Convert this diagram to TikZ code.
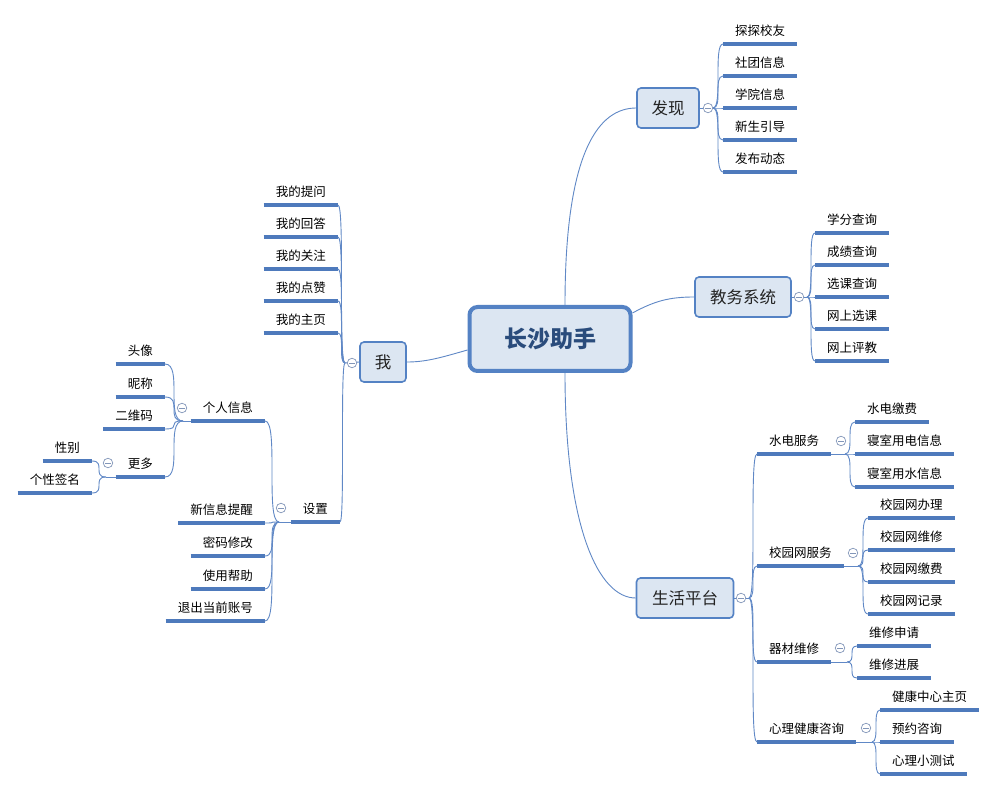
\documentclass[tikz,border=0pt]{standalone}
\usepackage{fontspec}
\setmainfont{Noto Sans CJK SC}
\usetikzlibrary{calc}
\definecolor{linec}{RGB}{96,136,198}
\definecolor{ulc}{RGB}{78,122,188}
\definecolor{boxfill}{RGB}{220,230,242}
\definecolor{boxdraw}{RGB}{84,130,196}
\definecolor{ctext}{RGB}{42,76,124}
\definecolor{ttext}{RGB}{35,35,35}
\definecolor{collc}{RGB}{130,150,185}
\newcommand\mmconn[2]{\draw[conn] (#1) .. controls (#2 |- #1) and (#1 |- #2) .. (#2);}
\begin{document}
\begin{tikzpicture}[x=1pt,y=-1pt,
 conn/.style={draw=linec, line width=0.9pt},
 uline/.style={draw=ulc, line width=3.2pt},
 leaf/.style={inner xsep=12pt, inner ysep=0pt, minimum height=23pt, text height=9.5pt, text depth=2.5pt,
   font=\fontsize{12.5}{14}\selectfont, text=black,
   append after command={(\tikzlastnode.south west) edge[uline] (\tikzlastnode.south east)}},
 leafR/.style={leaf, anchor=south west},
 leafL/.style={leaf, anchor=south east},
 topic/.style={draw=boxdraw, line width=1.6pt, fill=boxfill, rounded corners=4pt,
   font=\fontsize{16.5}{18}\selectfont, text=ttext, minimum height=40pt, inner sep=0pt},
 coll/.style={circle, draw=collc, line width=0.7pt, fill=white, minimum size=9.5pt, inner sep=0pt,
   path picture={\draw[collc, line width=0.7pt] ([xshift=-2.6pt]path picture bounding box.center) -- ([xshift=2.6pt]path picture bounding box.center);}},
]
\fill[white] (0,0) rectangle (1001,791);
\useasboundingbox (0,0) rectangle (1001,791);

% central
\node[draw=boxdraw, line width=4pt, fill=boxfill, rounded corners=8pt, minimum width=161pt, minimum height=64pt,
  font=\fontsize{23}{26}\selectfont\bfseries, text=ctext] (c) at (550,339) {长沙助手};

% topics
\node[topic, minimum width=62pt] (fx) at (668,108) {发现};
\node[topic, minimum width=96pt] (jw) at (743,297) {教务系统};
\node[topic, minimum width=46pt] (wo) at (383,362) {我};
\node[topic, minimum width=97pt] (sh) at (685,598) {生活平台};

% 发现 leaves
\node[leafR] (f1) at (723,44) {探探校友};
\node[leafR] (f2) at (723,76) {社团信息};
\node[leafR] (f3) at (723,108) {学院信息};
\node[leafR] (f4) at (723,140) {新生引导};
\node[leafR] (f5) at (723,172) {发布动态};

% 教务系统 leaves
\node[leafR] (j1) at (815,233) {学分查询};
\node[leafR] (j2) at (815,265) {成绩查询};
\node[leafR] (j3) at (815,297) {选课查询};
\node[leafR] (j4) at (815,329) {网上选课};
\node[leafR] (j5) at (815,361) {网上评教};

% 我 leaves
\node[leafL] (w1) at (338,205) {我的提问};
\node[leafL] (w2) at (338,237) {我的回答};
\node[leafL] (w3) at (338,269) {我的关注};
\node[leafL] (w4) at (338,301) {我的点赞};
\node[leafL] (w5) at (338,333) {我的主页};
\node[leafL] (sz) at (340,522) {设置};

% 设置 children
\node[leafL] (p) at (265,421) {个人信息};
\node[leafL] (s2) at (265,523) {新信息提醒};
\node[leafL] (s3) at (265,556) {密码修改};
\node[leafL] (s4) at (265,589) {使用帮助};
\node[leafL] (s5) at (265,621) {退出当前账号};

% 个人信息 children
\node[leafL] (p1) at (165,364) {头像};
\node[leafL] (p2) at (165,397) {昵称};
\node[leafL] (p3) at (165,429) {二维码};
\node[leafL] (p4) at (165,477) {更多};

% 更多 children
\node[leafL] (m1) at (92,461) {性别};
\node[leafL] (m2) at (92,493) {个性签名};

% 生活平台 children
\node[leafR] (l1) at (757,454) {水电服务};
\node[leafR] (l2) at (757,566) {校园网服务};
\node[leafR] (l3) at (757,662) {器材维修};
\node[leafR] (l4) at (757,742) {心理健康咨询};

\node[leafR] (a1) at (855,422) {水电缴费};
\node[leafR] (a2) at (855,454) {寝室用电信息};
\node[leafR] (a3) at (855,487) {寝室用水信息};

\node[leafR] (b1) at (868,518) {校园网办理};
\node[leafR] (b2) at (868,550) {校园网维修};
\node[leafR] (b3) at (868,582) {校园网缴费};
\node[leafR] (b4) at (868,614) {校园网记录};

\node[leafR] (q1) at (857,646) {维修申请};
\node[leafR] (q2) at (857,678) {维修进展};

\node[leafR] (h1) at (880,710) {健康中心主页};
\node[leafR] (h2) at (880,742) {预约咨询};
\node[leafR] (h3) at (880,774) {心理小测试};

% junctions
\coordinate (jF) at (713,108);
\coordinate (jJ) at (807,297);
\coordinate (jW) at (345,363);
\coordinate (jS) at (279,522);
\coordinate (jP) at (183,421);
\coordinate (jM) at (106,477);
\coordinate (jL) at (749,598);
\coordinate (jA) at (845,454);
\coordinate (jB) at (858,566);
\coordinate (jQ) at (847,662);
\coordinate (jH) at (872,742);

% central connectors
\draw[conn] ([xshift=15pt]c.north) .. controls ++(0,-155) and ++(-37,0) .. (fx.west);
\draw[conn] ([xshift=15pt]c.south) .. controls ++(0,155) and ++(-37,0) .. (sh.west);
\draw[conn] ([yshift=26pt]c.east) .. controls ++(22,-12) and ++(-25,0) .. (jw.west);
\draw[conn] ([yshift=-11pt]c.west) .. controls ++(-28,8) and ++(19,0) .. (wo.east);

% topic to junction
\draw[conn] (fx.east) -- (jF);
\draw[conn] (jw.east) -- (jJ);
\draw[conn] (wo.west) -- (jW);
\draw[conn] (sh.east) -- (jL);
\draw[conn] (sz.south west) -- (jS);
\draw[conn] (p.south west) -- (jP);
\draw[conn] (p4.south west) -- (jM);
\draw[conn] (l1.south east) -- (jA);
\draw[conn] (l2.south east) -- (jB);
\draw[conn] (l3.south east) -- (jQ);
\draw[conn] (l4.south east) -- (jH);

% branch curves
\mmconn{jF}{f1.south west}\mmconn{jF}{f2.south west}\mmconn{jF}{f3.south west}\mmconn{jF}{f4.south west}\mmconn{jF}{f5.south west}
\mmconn{jJ}{j1.south west}\mmconn{jJ}{j2.south west}\mmconn{jJ}{j3.south west}\mmconn{jJ}{j4.south west}\mmconn{jJ}{j5.south west}
\mmconn{jW}{w1.south east}\mmconn{jW}{w2.south east}\mmconn{jW}{w3.south east}\mmconn{jW}{w4.south east}\mmconn{jW}{w5.south east}\mmconn{jW}{sz.south east}
\mmconn{jS}{p.south east}\mmconn{jS}{s2.south east}\mmconn{jS}{s3.south east}\mmconn{jS}{s4.south east}\mmconn{jS}{s5.south east}
\mmconn{jP}{p1.south east}\mmconn{jP}{p2.south east}\mmconn{jP}{p3.south east}\mmconn{jP}{p4.south east}
\mmconn{jM}{m1.south east}\mmconn{jM}{m2.south east}
\mmconn{jL}{l1.south west}\mmconn{jL}{l2.south west}\mmconn{jL}{l3.south west}\mmconn{jL}{l4.south west}
\mmconn{jA}{a1.south west}\mmconn{jA}{a2.south west}\mmconn{jA}{a3.south west}
\mmconn{jB}{b1.south west}\mmconn{jB}{b2.south west}\mmconn{jB}{b3.south west}\mmconn{jB}{b4.south west}
\mmconn{jQ}{q1.south west}\mmconn{jQ}{q2.south west}
\mmconn{jH}{h1.south west}\mmconn{jH}{h2.south west}\mmconn{jH}{h3.south west}

% collapse markers
\node[coll] (cF) at (708,108) {};
\node[coll] (cJ) at (799,297) {};
\node[coll] (cW) at (352,363) {};
\node[coll] (cL) at (741,598) {};
\node[coll] (cP) at (182,408) {};
\node[coll] (cM) at (108,463) {};
\node[coll] (cS) at (281,508) {};
\node[coll] (cA) at (841,441) {};
\node[coll] (cB) at (853,553) {};
\node[coll] (cQ) at (840,648) {};
\node[coll] (cH) at (866,728) {};
\end{tikzpicture}
\end{document}
